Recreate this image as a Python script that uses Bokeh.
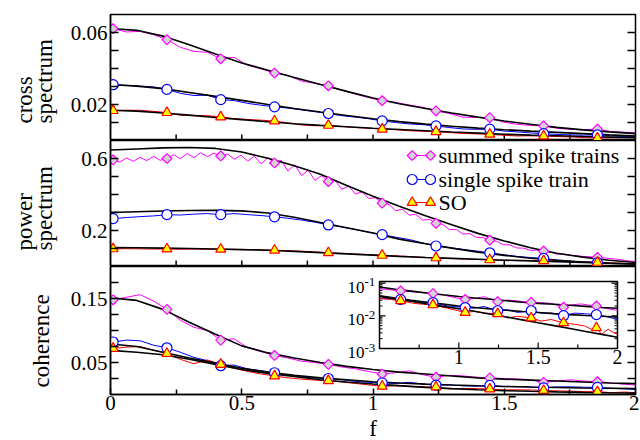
import math
from bokeh.plotting import figure
from bokeh.models import Range1d, FixedTicker, LogScale, CustomJSTickFormatter
from bokeh.layouts import column, row
from bokeh.embed import file_html
from bokeh.resources import INLINE
from bokeh.core.properties import value

FONT = "Liberation Serif"
MAGENTA = "#ff00ff"
BLUE = "#0000ff"
RED = "#ff0000"

# ---------------- data ----------------
f_data = [0.010, 0.061, 0.113, 0.164, 0.215, 0.266, 0.318, 0.369, 0.420, 0.471,
          0.523, 0.574, 0.625, 0.676, 0.728, 0.779, 0.830, 0.881, 0.933, 0.984,
          1.035, 1.086, 1.138, 1.189, 1.240, 1.291, 1.343, 1.394, 1.445, 1.496,
          1.548, 1.599, 1.650, 1.701, 1.753, 1.804, 1.855, 1.906, 1.958, 2.009]
f_fine = [0.010, 0.036, 0.061, 0.087, 0.113, 0.138, 0.164, 0.189, 0.215, 0.241,
          0.266, 0.292, 0.318, 0.343, 0.369, 0.394, 0.420, 0.446, 0.471, 0.497,
          0.523, 0.548, 0.574, 0.599, 0.625, 0.651, 0.676, 0.702, 0.728, 0.753,
          0.779, 0.804, 0.830, 0.856, 0.881, 0.907, 0.933, 0.958, 0.984, 1.009,
          1.035, 1.061, 1.086, 1.112, 1.138, 1.163, 1.189, 1.215, 1.240, 1.266,
          1.291, 1.317, 1.343, 1.368, 1.394, 1.420, 1.445, 1.471, 1.496, 1.522,
          1.548, 1.573, 1.599, 1.624, 1.650, 1.676, 1.701, 1.727, 1.753, 1.778,
          1.804, 1.830, 1.855, 1.881, 1.906, 1.932, 1.958, 1.983, 2.009]
f_theory = [0.0, 0.1, 0.2, 0.3, 0.4, 0.5, 0.6, 0.7, 0.8, 0.9, 1.0,
            1.1, 1.2, 1.3, 1.4, 1.5, 1.6, 1.7, 1.8, 1.9, 2.0]

# cross spectrum
cross_summed = [0.0621, 0.0603, 0.0606, 0.0588, 0.0560, 0.0518, 0.0495, 0.0490, 0.0454, 0.0462,
                0.0418, 0.0398, 0.0375, 0.0362, 0.0330, 0.0318, 0.0304, 0.0280, 0.0258, 0.0238,
                0.0221, 0.0212, 0.0197, 0.0185, 0.0165, 0.0150, 0.0130, 0.0128, 0.0127, 0.0102,
                0.0090, 0.0084, 0.0081, 0.0068, 0.0062, 0.0060, 0.0063, 0.0050, 0.0046, 0.0043]
cross_single = [0.0310, 0.0306, 0.0302, 0.0298, 0.0284, 0.0262, 0.0250, 0.0252, 0.0227, 0.0222,
                0.0206, 0.0196, 0.0187, 0.0180, 0.0170, 0.0160, 0.0150, 0.0138, 0.0130, 0.0121,
                0.0109, 0.0100, 0.0092, 0.0088, 0.0081, 0.0072, 0.0064, 0.0062, 0.0063, 0.0053,
                0.0048, 0.0042, 0.0038, 0.0034, 0.0031, 0.0030, 0.0031, 0.0026, 0.0022, 0.0020]
cross_so = [0.0166, 0.0168, 0.0168, 0.0162, 0.0155, 0.0140, 0.0138, 0.0138, 0.0131, 0.0122,
            0.0117, 0.0113, 0.0108, 0.0098, 0.0086, 0.0082, 0.0084, 0.0078, 0.0072, 0.0068,
            0.0063, 0.0060, 0.0054, 0.0051, 0.0049, 0.0044, 0.0039, 0.0037, 0.0035, 0.0029,
            0.0025, 0.0026, 0.0025, 0.0022, 0.0020, 0.0016, 0.0013, 0.0015, 0.0016, 0.0015]
th_cross_summed = [0.0622, 0.0612, 0.0580, 0.0532, 0.0480, 0.0431, 0.0390, 0.0350, 0.0311, 0.0273, 0.0236,
                   0.0204, 0.0178, 0.0153, 0.0130, 0.0108, 0.0090, 0.0073, 0.0059, 0.0048, 0.0038]
th_cross_single = [0.0311, 0.0302, 0.0288, 0.0267, 0.0245, 0.0223, 0.0200, 0.0178, 0.0158, 0.0139, 0.0121,
                   0.0105, 0.0091, 0.0079, 0.0069, 0.0060, 0.0052, 0.0045, 0.0038, 0.0031, 0.0025]
th_cross_so = [0.0168, 0.0163, 0.0153, 0.0141, 0.0128, 0.0116, 0.0104, 0.0093, 0.0084, 0.0076, 0.0068,
               0.0061, 0.0054, 0.0047, 0.0041, 0.0035, 0.0030, 0.0026, 0.0022, 0.0019, 0.0016]

# power spectrum
power_summed = [0.592, 0.580, 0.603, 0.585, 0.606, 0.588, 0.612, 0.590, 0.600, 0.621,
                0.598, 0.628, 0.605, 0.632, 0.610, 0.630, 0.614, 0.625, 0.596, 0.618,
                0.585, 0.612, 0.570, 0.604, 0.575, 0.590, 0.530, 0.565, 0.505, 0.535,
                0.478, 0.505, 0.472, 0.478, 0.428, 0.448, 0.402, 0.415, 0.378, 0.382,
                0.352, 0.345, 0.310, 0.318, 0.285, 0.290, 0.258, 0.262, 0.240, 0.234,
                0.205, 0.206, 0.180, 0.183, 0.162, 0.160, 0.146, 0.140, 0.121, 0.120,
                0.103, 0.102, 0.090, 0.091, 0.085, 0.080, 0.069, 0.068, 0.062, 0.059,
                0.055, 0.054, 0.051, 0.048, 0.044, 0.040, 0.034, 0.030, 0.026]
power_single = [0.266, 0.272, 0.277, 0.281, 0.288, 0.286, 0.291, 0.294, 0.288, 0.294,
                0.288, 0.283, 0.276, 0.268, 0.258, 0.246, 0.231, 0.219, 0.206, 0.190,
                0.177, 0.163, 0.150, 0.131, 0.114, 0.105, 0.095, 0.086, 0.076, 0.066,
                0.056, 0.050, 0.045, 0.036, 0.029, 0.025, 0.021, 0.018, 0.016, 0.014]
power_so = [0.098, 0.099, 0.098, 0.097, 0.097, 0.096, 0.097, 0.096, 0.096, 0.095,
            0.094, 0.093, 0.090, 0.088, 0.085, 0.081, 0.076, 0.073, 0.069, 0.066,
            0.062, 0.059, 0.055, 0.051, 0.048, 0.045, 0.042, 0.039, 0.037, 0.035,
            0.034, 0.033, 0.032, 0.029, 0.027, 0.025, 0.023, 0.020, 0.017, 0.014]
th_power_summed = [0.647, 0.653, 0.659, 0.661, 0.656, 0.636, 0.601, 0.560, 0.512, 0.450, 0.390,
                   0.335, 0.282, 0.232, 0.184, 0.142, 0.104, 0.074, 0.052, 0.035, 0.022]
th_power_single = [0.300, 0.304, 0.308, 0.311, 0.312, 0.309, 0.297, 0.274, 0.244, 0.215, 0.186,
                   0.152, 0.126, 0.102, 0.080, 0.062, 0.046, 0.035, 0.025, 0.018, 0.014]
th_power_so = [0.105, 0.104, 0.102, 0.100, 0.097, 0.094, 0.090, 0.084, 0.077, 0.070, 0.063,
               0.056, 0.050, 0.045, 0.040, 0.035, 0.031, 0.027, 0.023, 0.018, 0.014]

# coherence
coh_summed = [0.148, 0.152, 0.156, 0.146, 0.133, 0.116, 0.105, 0.100, 0.085, 0.087,
              0.073, 0.067, 0.061, 0.057, 0.052, 0.050, 0.047, 0.043, 0.040, 0.036,
              0.032, 0.034, 0.037, 0.031, 0.027, 0.030, 0.029, 0.027, 0.026, 0.025,
              0.0245, 0.023, 0.019, 0.021, 0.023, 0.021, 0.020, 0.018, 0.016, 0.0145]
coh_single = [0.082, 0.085, 0.084, 0.077, 0.073, 0.066, 0.058, 0.053, 0.045, 0.046,
              0.040, 0.037, 0.034, 0.030, 0.027, 0.026, 0.025, 0.023, 0.0205, 0.019,
              0.018, 0.0172, 0.0190, 0.0165, 0.0145, 0.0152, 0.0135, 0.0130, 0.0142, 0.0125,
              0.0121, 0.0118, 0.0102, 0.0118, 0.0120, 0.0114, 0.0110, 0.0098, 0.0088, 0.0077]
coh_so = [0.072, 0.074, 0.075, 0.069, 0.064, 0.055, 0.048, 0.054, 0.047, 0.041,
          0.036, 0.032, 0.029, 0.026, 0.0240, 0.0225, 0.0216, 0.0195, 0.0172, 0.0150,
          0.0128, 0.0135, 0.0124, 0.0120, 0.0116, 0.0088, 0.0096, 0.0092, 0.0086, 0.0072,
          0.0074, 0.0072, 0.0062, 0.0057, 0.0052, 0.0045, 0.0043, 0.0028, 0.0038, 0.0027]
th_coh_summed = [0.151, 0.147, 0.133, 0.113, 0.094, 0.076, 0.065, 0.057, 0.050, 0.044, 0.039,
                 0.035, 0.032, 0.029, 0.026, 0.024, 0.0225, 0.021, 0.0195, 0.018, 0.017]
th_coh_single = [0.079, 0.075, 0.066, 0.057, 0.049, 0.041, 0.035, 0.030, 0.026, 0.023, 0.0200,
                 0.0180, 0.0162, 0.0148, 0.0136, 0.0126, 0.0117, 0.0109, 0.0102, 0.0097, 0.0092]
th_coh_so = [0.069, 0.066, 0.062, 0.055, 0.047, 0.039, 0.033, 0.028, 0.023, 0.0195, 0.0165,
             0.0138, 0.0112, 0.0092, 0.0075, 0.0061, 0.0050, 0.0041, 0.0033, 0.0027, 0.0022]

# inset (coherence, log scale)
inset_f_summed = [0.502, 0.633, 0.717, 0.780, 0.837, 0.907, 0.970, 1.040, 1.097, 1.160, 1.245, 1.308,
                  1.371, 1.456, 1.519, 1.582, 1.660, 1.709, 1.772, 1.835, 1.867, 1.920, 2.000]
inset_summed = [0.0676, 0.0577, 0.0538, 0.0502, 0.0480, 0.0430, 0.0364, 0.0317, 0.0340, 0.0382, 0.0271, 0.0305,
                0.0284, 0.0258, 0.0253, 0.0241, 0.0183, 0.0216, 0.0231, 0.0206, 0.0201, 0.0171, 0.0146]
inset_f_single = [0.502, 0.633, 0.717, 0.837, 0.928, 1.040, 1.097, 1.160, 1.245, 1.308, 1.371,
                  1.456, 1.519, 1.582, 1.660, 1.730, 1.793, 1.867, 1.920, 1.962, 2.000]
inset_single = [0.0340, 0.0317, 0.0271, 0.0253, 0.0201, 0.0179, 0.0171, 0.0192, 0.0143, 0.0153, 0.0127,
                0.0143, 0.0121, 0.0121, 0.0101, 0.0121, 0.0116, 0.0109, 0.0097, 0.0086, 0.0077]
inset_f_so = [0.502, 0.570, 0.633, 0.717, 0.780, 0.837, 0.928, 0.970, 1.040, 1.097, 1.160, 1.245, 1.308,
              1.371, 1.456, 1.519, 1.582, 1.660, 1.730, 1.793, 1.835, 1.867, 1.899, 1.941, 1.973, 2.000]
inset_so = [0.0340, 0.0317, 0.0290, 0.0241, 0.0225, 0.0216, 0.0171, 0.0153, 0.0127, 0.0136, 0.0121, 0.0116, 0.0086,
            0.0097, 0.0086, 0.0069, 0.0077, 0.0061, 0.0055, 0.0049, 0.0039, 0.0043, 0.0027, 0.0039, 0.0031, 0.0027]
inset_marker_f = [0.633, 0.837, 1.040, 1.245, 1.456, 1.660, 1.867]

legend_labels = ["summed spike trains", "single spike train", "SO"]
x_major = [0, 0.5, 1, 1.5, 2]
x_minor = [0.25, 0.75, 1.25, 1.75]

# ---------------- styles / layout constants ----------------
STYLES = [
    dict(color=MAGENTA, marker="square", angle=math.pi / 4, size=7, fill="#d3d3d3"),
    dict(color=BLUE, marker="circle", angle=0.0, size=10, fill="white"),
    dict(color=RED, marker="triangle", angle=0.0, size=10, fill="#ffff00"),
]
LAB_W = 66
FRAME_W = 525
TOP = 14
FH1, FH2, FH3 = 126, 126, 128
BOTTOM = 46
H_TOTAL = TOP + FH1 + FH2 + FH3 + BOTTOM


def panel(frame_h, y_end, major, minor, top=0, bottom=0, xaxis=False):
    p = figure(frame_width=FRAME_W, frame_height=frame_h,
               x_range=Range1d(0, 2), y_range=Range1d(0, y_end),
               output_backend="svg", toolbar_location=None,
               x_axis_location="below" if xaxis else None,
               min_border_left=110 - LAB_W, min_border_right=4,
               min_border_top=top, min_border_bottom=bottom)
    p.grid.visible = False
    p.outline_line_color = "black"
    p.outline_line_width = 1.5
    p.background_fill_color = "white"
    p.border_fill_color = "white"
    ya = p.yaxis[0]
    ya.ticker = FixedTicker(ticks=major, minor_ticks=minor)
    ya.major_tick_in = 8
    ya.major_tick_out = 0
    ya.minor_tick_in = 8
    ya.minor_tick_out = 0
    ya.axis_line_width = 1.5
    ya.major_tick_line_width = 1.5
    ya.minor_tick_line_width = 1.5
    ya.major_label_text_font = FONT
    ya.major_label_text_font_size = "21px"
    ya.major_label_text_color = "black"
    ya.major_label_standoff = 3
    if xaxis:
        xa = p.xaxis[0]
        xa.ticker = FixedTicker(ticks=x_major, minor_ticks=x_minor)
        xa.major_tick_in = 6
        xa.major_tick_out = 0
        xa.minor_tick_in = 5
        xa.minor_tick_out = 0
        xa.axis_line_width = 1.5
        xa.major_tick_line_width = 1.5
        xa.minor_tick_line_width = 1.5
        xa.formatter = CustomJSTickFormatter(code="return tick.toString();")
        xa.major_label_text_font = FONT
        xa.major_label_text_font_size = "21px"
        xa.major_label_text_color = "black"
        xa.major_label_standoff = 1
    else:
        inner = [t for t in x_major + x_minor if 0 < t < 2]
        p.ray(x=inner, y=[0] * len(inner), length=6, angle=math.pi / 2, length_units="screen",
              line_color="black", line_width=1.5)
    yt = major + minor
    p.ray(x=[2] * len(yt), y=yt, length=8, angle=math.pi, length_units="screen",
          line_color="black", line_width=1.5)
    return p


def draw_series(p, fs, data, ft, theory, step, **kw):
    for f_, d, st in zip(fs, data, STYLES):
        p.line(f_, d, line_color=st["color"], line_width=1, **kw)
    for th in theory:
        p.line(ft, th, line_color="black", line_width=1.6, **kw)
    for f_, d, stp, st in zip(fs, data, step, STYLES):
        p.scatter(f_[::stp], d[::stp], marker=st["marker"], angle=st["angle"], size=st["size"],
                  fill_color=st["fill"], line_color=st["color"], line_width=1.2, **kw)


# ---------------- top: cross spectrum ----------------
p1 = panel(FH1, 0.07, [0.02, 0.06], [0.01, 0.03, 0.04, 0.05], top=TOP)
draw_series(p1, [f_data] * 3, [cross_summed, cross_single, cross_so], f_theory,
            [th_cross_summed, th_cross_single, th_cross_so], [4, 4, 4])

# ---------------- middle: power spectrum ----------------
p2 = panel(FH2, 0.7, [0.2, 0.6], [0.1, 0.3, 0.4, 0.5])
draw_series(p2, [f_fine, f_data, f_data], [power_summed, power_single, power_so], f_theory,
            [th_power_summed, th_power_single, th_power_so], [8, 4, 4])

# legend (placed in frame pixel coordinates)
p2.extra_x_ranges = {"lx": Range1d(0, FRAME_W)}
p2.extra_y_ranges = {"ly": Range1d(0, FH2)}
leg_rows = [111.0, 87.0, 64.0]
leg_x0, leg_x1, leg_tx = 301.7, 320.0, 328.0
for rw, st in zip(leg_rows, STYLES):
    p2.segment(x0=[leg_x0], y0=[rw], x1=[leg_x1], y1=[rw], line_color=st["color"], line_width=1.2,
               x_range_name="lx", y_range_name="ly")
    p2.scatter([leg_x0, leg_x1], [rw, rw], marker=st["marker"], angle=st["angle"], size=st["size"],
               fill_color=st["fill"], line_color=st["color"], line_width=1.2,
               x_range_name="lx", y_range_name="ly")
p2.text(x=[leg_tx] * 3, y=leg_rows, text=legend_labels, text_font=value(FONT),
        text_font_size=value("22px"), text_color="black", text_align="left", text_baseline="middle",
        x_range_name="lx", y_range_name="ly")

# ---------------- bottom: coherence ----------------
p3 = panel(FH3, 0.2, [0.05, 0.15], [0.025, 0.075, 0.1, 0.125, 0.175], bottom=BOTTOM, xaxis=True)
xa3 = p3.xaxis[0]
xa3.axis_label = "f"
xa3.axis_label_text_font = FONT
xa3.axis_label_text_font_size = "23px"
xa3.axis_label_text_font_style = "normal"
xa3.axis_label_text_color = "black"
xa3.axis_label_standoff = 3
draw_series(p3, [f_data] * 3, [coh_summed, coh_single, coh_so], f_theory,
            [th_coh_summed, th_coh_single, th_coh_so], [4, 4, 4])

# inset: frame-pixel box and its axis ranges
IN_PX = (269.0, 507.0, 46.0, 113.0)
IN_X = (0.5, 2.0)
IN_LOG = (-3.0, -0.95)
sxp = (IN_PX[1] - IN_PX[0]) / (IN_X[1] - IN_X[0])
syp = (IN_PX[3] - IN_PX[2]) / (IN_LOG[1] - IN_LOG[0])
p3.extra_x_ranges = {"ix": Range1d(IN_X[0] - IN_PX[0] / sxp, IN_X[1] + (FRAME_W - IN_PX[1]) / sxp)}
p3.extra_y_ranges = {"iy": Range1d(10 ** (IN_LOG[0] - IN_PX[2] / syp), 10 ** (IN_LOG[1] + (FH3 - IN_PX[3]) / syp))}
p3.extra_y_scales = {"iy": LogScale()}
IK = dict(x_range_name="ix", y_range_name="iy")
ybot, ytop = 10 ** IN_LOG[0], 10 ** IN_LOG[1]
p3.quad(left=[IN_X[0]], right=[IN_X[1]], bottom=[ybot], top=[ytop], fill_color="white",
        line_color="black", line_width=1.5, **IK)

ix_major = [1.0, 1.5]
ix_minor = [0.75, 1.25, 1.75]
p3.ray(x=ix_major, y=[ybot] * len(ix_major), length=6, angle=math.pi / 2, length_units="screen",
       line_color="black", line_width=1.2, **IK)
p3.ray(x=ix_minor, y=[ybot] * len(ix_minor), length=4, angle=math.pi / 2, length_units="screen",
       line_color="black", line_width=1.2, **IK)
iy_major = [1e-2, 1e-1]
iy_minor = [k * 1e-3 for k in range(2, 10)] + [k * 1e-2 for k in range(2, 10)]
for xe, ang in ((IN_X[0], 0.0), (IN_X[1], math.pi)):
    p3.ray(x=[xe] * len(iy_major), y=iy_major, length=6, angle=ang, length_units="screen",
           line_color="black", line_width=1.2, **IK)
    p3.ray(x=[xe] * len(iy_minor), y=iy_minor, length=3, angle=ang, length_units="screen",
           line_color="black", line_width=1.0, **IK)

p3.text(x=[1.0, 1.5, 2.0], y=[ybot] * 3, text=["1", "1.5", "2"], text_font=value(FONT),
        text_font_size=value("20px"), text_color="black", text_align="center", text_baseline="top",
        y_offset=1, **IK)
decades = [1e-3, 1e-2, 1e-1]
p3.text(x=[IN_X[0]] * 3, y=decades, text=["10"] * 3, text_font=value(FONT),
        text_font_size=value("17px"), text_color="black", text_align="right", text_baseline="middle",
        x_offset=-15, y_offset=4, **IK)
p3.text(x=[IN_X[0]] * 3, y=decades, text=["-3", "-2", "-1"], text_font=value(FONT),
        text_font_size=value("13px"), text_color="black", text_align="left", text_baseline="middle",
        x_offset=-15, y_offset=-1, **IK)

inset_sets = [(inset_f_summed, inset_summed), (inset_f_single, inset_single), (inset_f_so, inset_so)]
for (fs, vs), st in zip(inset_sets, STYLES):
    p3.line(fs, vs, line_color=st["color"], line_width=1, **IK)
for th in (th_coh_summed, th_coh_single, th_coh_so):
    p3.line(f_theory[5:], th[5:], line_color="black", line_width=1.6, **IK)
for (fs, vs), st in zip(inset_sets, STYLES):
    idx = [fs.index(m) for m in inset_marker_f]
    p3.scatter([fs[i] for i in idx], [vs[i] for i in idx], marker=st["marker"], angle=st["angle"],
               size=st["size"], fill_color=st["fill"], line_color=st["color"], line_width=1.2, **IK)

# ---------------- y-axis titles (separate strip on the left) ----------------
lab = figure(width=LAB_W, height=H_TOTAL, x_range=Range1d(0, LAB_W), y_range=Range1d(0, H_TOTAL),
             output_backend="svg", toolbar_location=None, x_axis_location=None, y_axis_location=None,
             min_border=0)
lab.grid.visible = False
lab.outline_line_color = None
lab.background_fill_color = "white"
lab.border_fill_color = "white"
title_text = ["cross", "spectrum", "power", "spectrum", "coherence"]
title_x = [23.5, 43.5, 23.5, 43.5, 40.5]
title_top = [123, 123, 250, 250, 387]
lab.text(x=title_x, y=[H_TOTAL - t for t in title_top], text=title_text, angle=math.pi / 2,
         text_font=value(FONT), text_font_size=value("23px"), text_color="black",
         text_align="left", text_baseline="middle")

layout = row(lab, column(p1, p2, p3, spacing=0), spacing=0)
open("out.html", "w").write(file_html(layout, INLINE))
